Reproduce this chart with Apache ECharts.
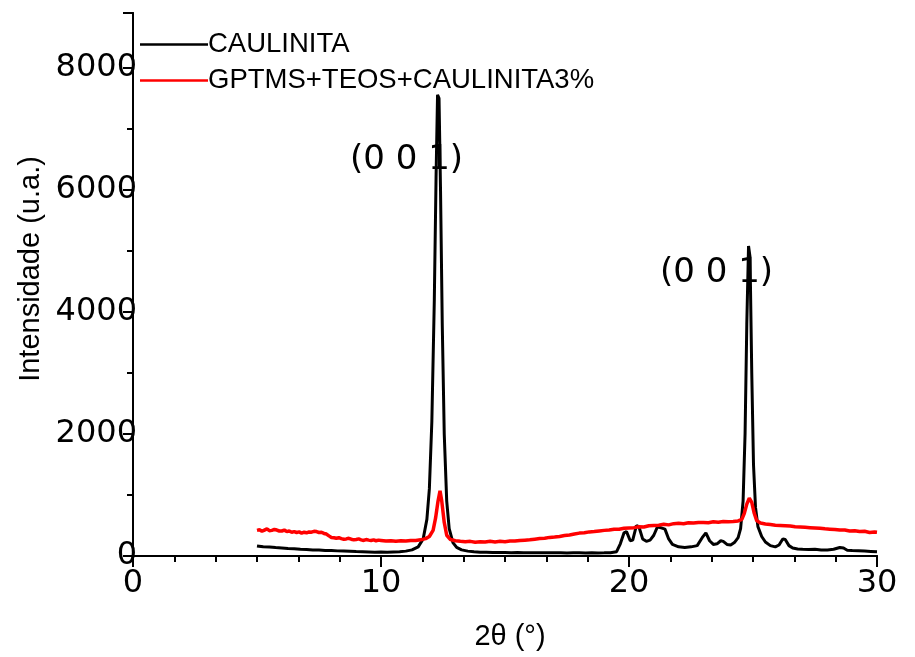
<!DOCTYPE html>
<html><head><meta charset="utf-8">
<script src="https://cdn.jsdelivr.net/npm/echarts@6/dist/echarts.min.js"></script>
<style>html,body{margin:0;padding:0;background:#fff}#c{width:915px;height:657px}</style>
</head><body><div id="c"></div>
<script>
const seriesNames = ['CAULINITA', 'GPTMS+TEOS+CAULINITA3%'];
const xTickLabels = [0, 10, 20, 30];
const yTickLabels = [0, 2000, 4000, 6000, 8000];

const caulinitaTheta = [5.0,5.25,5.5,5.75,6.0,6.25,6.5,6.75,7.0,7.25,7.5,7.75,8.0,8.25,8.5,8.75,9.0,9.25,9.5,9.75,10.0,10.25,10.5,10.75,11.0,11.25,11.5,11.7,11.85,11.95,12.05,12.15,12.22,12.28,12.34,12.4,12.47,12.55,12.65,12.75,12.9,13.05,13.25,13.5,13.75,14.0,14.25,14.5,14.75,15.0,15.25,15.5,15.75,16.0,16.25,16.5,16.75,17.0,17.25,17.5,17.75,18.0,18.25,18.5,18.75,19.0,19.25,19.5,19.65,19.8,19.9,20.05,20.15,20.3,20.4,20.55,20.7,20.85,21.0,21.15,21.3,21.45,21.6,21.75,22.0,22.25,22.5,22.75,22.95,23.1,23.25,23.4,23.55,23.7,23.8,23.95,24.1,24.25,24.4,24.5,24.6,24.68,24.75,24.82,24.88,24.95,25.02,25.1,25.2,25.35,25.5,25.7,25.9,26.05,26.2,26.3,26.45,26.6,26.8,27.0,27.25,27.5,27.75,28.0,28.25,28.5,28.65,28.8,29.0,29.25,29.5,29.75,30.0];
const caulinitaIntensity = [165,150,148,138,132,124,120,110,108,100,97,90,90,84,80,76,72,70,66,62,64,62,66,70,80,100,150,280,600,1100,2200,4200,6200,7560,7500,6000,3800,2000,900,450,220,140,100,80,70,62,60,58,57,56,55,56,54,55,53,54,52,53,52,51,53,52,51,52,50,52,55,70,200,380,400,250,260,500,480,280,240,260,340,480,460,440,280,190,150,140,150,170,300,380,250,190,200,250,240,190,180,220,300,450,900,2000,3800,5080,4900,3000,1500,800,480,320,230,170,150,180,280,270,170,130,115,110,105,110,100,100,110,140,130,95,90,85,80,75,70];

const compositeTheta = [5.0,5.1,5.2,5.3,5.4,5.5,5.6,5.7,5.8,5.9,6.0,6.1,6.2,6.3,6.4,6.5,6.6,6.7,6.8,6.9,7.0,7.1,7.2,7.3,7.4,7.5,7.6,7.7,7.8,7.9,8.0,8.1,8.2,8.3,8.4,8.5,8.6,8.7,8.8,8.9,9.0,9.1,9.2,9.3,9.4,9.5,9.6,9.7,9.8,9.9,10.0,10.2,10.4,10.6,10.8,11.0,11.2,11.4,11.6,11.8,11.95,12.1,12.2,12.3,12.38,12.45,12.55,12.65,12.8,13.0,13.2,13.4,13.6,13.8,14.0,14.2,14.4,14.6,14.8,15.0,15.2,15.4,15.6,15.8,16.0,16.2,16.4,16.6,16.8,17.0,17.2,17.4,17.6,17.8,18.0,18.2,18.4,18.6,18.8,19.0,19.2,19.4,19.6,19.8,20.0,20.2,20.4,20.6,20.8,21.0,21.2,21.4,21.6,21.8,22.0,22.2,22.4,22.6,22.8,23.0,23.2,23.4,23.6,23.8,24.0,24.2,24.4,24.55,24.65,24.75,24.85,24.95,25.05,25.15,25.3,25.5,25.7,25.9,26.1,26.3,26.5,26.7,26.9,27.1,27.3,27.5,27.7,27.9,28.1,28.3,28.5,28.7,28.9,29.1,29.3,29.5,29.7,29.9,30.0];
const compositeIntensity = [420,430,405,425,445,415,420,435,425,410,410,425,400,410,390,400,385,395,375,390,380,395,390,405,400,385,390,370,360,330,305,300,290,300,285,275,280,290,275,265,270,280,265,255,270,260,255,265,250,260,255,245,250,240,250,245,255,255,265,285,320,420,620,900,1070,900,550,340,270,250,240,235,240,225,235,230,240,230,240,235,245,245,255,260,265,275,285,290,305,310,320,335,345,360,375,380,395,400,410,420,425,440,440,455,460,465,480,475,495,500,505,520,510,530,535,530,545,540,550,550,545,560,555,565,560,565,575,600,700,850,950,880,700,580,540,525,515,505,500,495,490,480,475,470,465,460,455,445,440,435,425,425,410,415,400,405,385,395,390];

const peakLabels = ['(0 0 1)', '(0 0 1)'];
const peakLabelTheta = [11.03, 23.53];
const peakLabelIntensity = [6490, 4640];

const zip = (a, b) => a.map((v, i) => [v, b[i]]);

const chart = echarts.init(document.getElementById('c'), null, {renderer: 'canvas'});
const black = '#000';
const tickFont = 'DejaVu Sans';
chart.setOption({
  animation: false,
  backgroundColor: '#fff',
  grid: {left: 133, right: 38, top: 13, bottom: 101, show: false},
  legend: {
    left: 135, top: 25, orient: 'vertical', icon: 'rect',
    itemWidth: 68, itemHeight: 2.5, itemGap: 7,
    textStyle: {fontFamily: 'Liberation Sans', fontSize: 27.5, color: black, lineHeight: 29, padding: [0, 0, 0, -5]},
    data: seriesNames
  },
  xAxis: [{
    type: 'value', min: xTickLabels[0], max: xTickLabels[xTickLabels.length - 1], interval: 10, position: 'bottom',
    axisLine: {lineStyle: {color: black, width: 2}},
    axisTick: {inside: false, length: 11, lineStyle: {color: black, width: 2}},
    minorTick: {show: true, splitNumber: 6, length: 6, lineStyle: {color: black, width: 2}},
    axisLabel: {fontFamily: tickFont, fontSize: 32, color: black, margin: 12,
      formatter: v => xTickLabels.includes(v) ? String(v) : ''},
    splitLine: {show: false}
  }, {
    type: 'value', min: xTickLabels[0], max: xTickLabels[xTickLabels.length - 1], interval: 10, position: 'top',
    axisLine: {lineStyle: {color: black, width: 2}},
    axisTick: {inside: true, length: 5, lineStyle: {color: black, width: 1.5}},
    minorTick: {show: true, splitNumber: 6, length: 5, lineStyle: {color: black, width: 1.5}},
    axisLabel: {show: false}, splitLine: {show: false}
  }],
  yAxis: [{
    type: 'value', min: 0, max: 8900, interval: 2000,
    axisLine: {show: true, lineStyle: {color: black, width: 2}},
    axisTick: {show: true, inside: false, length: 10, lineStyle: {color: black, width: 2}},
    minorTick: {show: true, splitNumber: 2, length: 6, lineStyle: {color: black, width: 2}},
    axisLabel: {fontFamily: tickFont, fontSize: 32, color: black, margin: -4, showMaxLabel: false,
      formatter: v => yTickLabels.includes(v) ? String(v) : ''},
    splitLine: {show: false}
  }, {
    type: 'value', min: 0, max: 8900, position: 'right',
    axisLine: {show: true, lineStyle: {color: black, width: 2}},
    axisTick: {show: false}, axisLabel: {show: false}, splitLine: {show: false}
  }],
  graphic: [
    {type: 'text', x: 31, y: 269, rotation: Math.PI / 2,
      style: {text: 'Intensidade (u.a.)', font: '29px "Liberation Sans"', fill: black, align: 'center', verticalAlign: 'middle', textAlign: 'center', textVerticalAlign: 'middle'}},
    {type: 'text', x: 510, y: 637,
      style: {text: '2θ (°)', font: '29px "Liberation Sans"', fill: black, align: 'center', verticalAlign: 'middle', textAlign: 'center', textVerticalAlign: 'middle'}}
  ],
  series: [{
    name: seriesNames[0], type: 'line', xAxisIndex: 0, yAxisIndex: 0,
    data: zip(caulinitaTheta, caulinitaIntensity),
    showSymbol: false, symbol: 'none',
    lineStyle: {color: black, width: 3}, itemStyle: {color: black},
    markPoint: {
      symbol: 'circle', symbolSize: 0, silent: true,
      itemStyle: {color: 'rgba(0,0,0,0)'},
      label: {show: true, position: 'inside', color: black, fontFamily: tickFont, fontSize: 34, formatter: p => p.name},
      data: peakLabels.map((t, i) => ({name: t, coord: [peakLabelTheta[i], peakLabelIntensity[i]]}))
    }
  }, {
    name: seriesNames[1], type: 'line', xAxisIndex: 0, yAxisIndex: 0,
    data: zip(compositeTheta, compositeIntensity),
    showSymbol: false, symbol: 'none',
    lineStyle: {color: '#ff0000', width: 3.5}, itemStyle: {color: '#ff0000'}
  }]
});
</script></body></html>
